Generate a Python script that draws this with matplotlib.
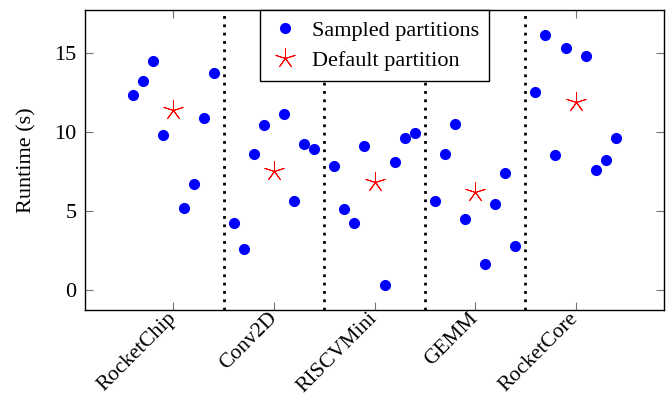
import numpy as np
import matplotlib
matplotlib.use("Agg")
import matplotlib.pyplot as plt

plt.rcParams['font.family'] = ['Liberation Serif', 'DejaVu Serif']

designs = ['RocketChip', 'Conv2D', 'RISCVMini', 'GEMM', 'RocketCore']

# runtimes of sampled partitions, one list per design (left to right)
sampled = [
    [12.3, 13.2, 14.5, 9.8, 5.2, 6.7, 10.9, 13.7],
    [4.2, 2.6, 8.6, 10.4, 11.1, 5.6, 9.2, 8.9],
    [7.8, 5.1, 4.2, 9.1, 0.3, 8.1, 9.6, 9.9],
    [5.6, 8.6, 10.5, 4.5, 1.6, 5.4, 7.4, 2.8],
    [12.5, 16.1, 8.5, 15.3, 14.8, 7.6, 8.2, 9.6],
]
default = [11.4, 7.5, 6.8, 6.2, 11.9]

offsets = np.array([-0.4, -0.3, -0.2, -0.1, 0.1, 0.2, 0.3, 0.4])

fig = plt.figure(figsize=(6.71, 4.01), dpi=100)
ax = fig.add_axes([0.1267, 0.2269, 0.8629, 0.7481])

pos = np.arange(1, len(designs) + 1)
sx = np.concatenate([p + offsets for p in pos])
sy = np.concatenate(sampled)
ax.plot(sx, sy, 'o', color='blue', markersize=7, linestyle='none', label='Sampled partitions')
ax.plot(pos, default, marker=(5, 2, 0), color='red', markersize=15, markeredgewidth=0.7,
        linestyle='none', label='Default partition')

for b in pos[:-1] + 0.5:
    ax.axvline(b, color='black', linestyle=(0, (1, 2)), linewidth=2, zorder=1)

ax.set_xlim(0.12, 5.88)
ax.set_ylim(-1.28, 17.7)
ax.set_xticks(pos)
ax.set_xticklabels(designs, rotation=45, ha='right', va='center', rotation_mode='anchor', fontsize=15.5)
ax.set_yticks([0, 5, 10, 15])
ax.tick_params(axis='both', direction='in', length=6, width=0.8, color='0.45', labelsize=16,
               top=True, right=True)
ax.tick_params(axis='x', pad=4, labelsize=15.5)
ax.tick_params(axis='y', pad=6)
ax.set_ylabel('Runtime (s)', fontsize=16, labelpad=13)
for s in ax.spines.values():
    s.set_linewidth(1.0)

leg = ax.legend(loc='upper center', bbox_to_anchor=(0.5, 1.0), fontsize=16, frameon=True,
                fancybox=False, edgecolor='black', borderpad=0.45, handletextpad=0.5,
                labelspacing=0.45, handlelength=1.4, framealpha=1, borderaxespad=0)
leg.get_frame().set_linewidth(1.0)

fig.savefig('out.png', dpi=100)
